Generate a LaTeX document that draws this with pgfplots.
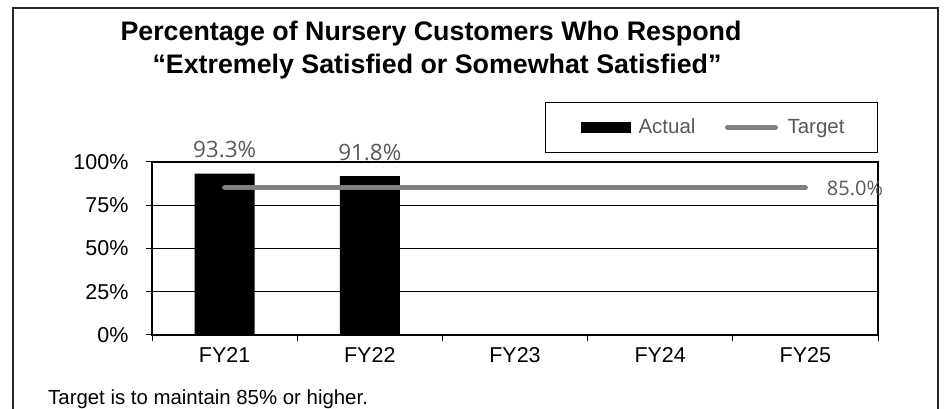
\documentclass[border=0pt]{standalone}
\usepackage{pgfplots}
\pgfplotsset{compat=1.18}
\usepackage{fontspec}
\setmainfont{Liberation Sans}
\newfontfamily\labelfont{Open Sans}
\definecolor{tgray}{RGB}{128,128,128}
\definecolor{lblgray}{RGB}{89,89,89}

\begin{document}
\begin{tikzpicture}[x=1pt,y=1pt]
\useasboundingbox (0,0) rectangle (944,409);
% outer frame (bottom edge falls outside the picture)
\draw[black!85, line width=1.3pt] (13,-5) -- (13,401) -- (938,401) -- (938,-5);

% title, two lines
\node[font=\fontsize{26.8}{30}\selectfont\bfseries, anchor=base, inner sep=0pt]
  at (431,368) {Percentage of Nursery Customers Who Respond};
\node[font=\fontsize{26.8}{30}\selectfont\bfseries, anchor=base, inner sep=0pt]
  at (437,335) {“Extremely Satisfied or Somewhat Satisfied”};

\begin{axis}[
    at={(152pt,74pt)}, anchor=south west,
    scale only axis,
    width=726pt, height=173pt,
    xmin=-0.5, xmax=4.5,
    ymin=0, ymax=100,
    xtick={-0.5,0.5,1.5,2.5,3.5,4.5},
    xticklabels={FY21,FY22,FY23,FY24,FY25},
    x tick label as interval,
    ytick={0,25,50,75,100},
    yticklabel={\pgfmathprintnumber{\tick}\%},
    /pgf/number format/assume math mode=true,
    ymajorgrids,
    grid style={black, line width=1pt},
    axis line style={black, line width=1.2pt},
    tick style={black, line width=1pt},
    tick align=outside,
    major tick length=6pt,
    xtick pos=bottom, ytick pos=left,
    ticklabel style={font=\fontsize{21.5}{24}\selectfont},
    xticklabel style={yshift=-3pt},
    yticklabel style={xshift=-14pt},
    clip=false,
    legend style={at={(1,1)}, anchor=south east, yshift=9pt,
        draw=black, line width=1pt, inner xsep=31pt, inner ysep=15pt,
        font=\fontsize{20.5}{24}\selectfont\color{lblgray}, legend columns=2,
        /tikz/every even column/.append style={column sep=25pt}},
    legend cell align=left,
]
\addplot[ybar, bar width=60pt, fill=black, draw=none,
    legend image code/.code={\path (-4pt,0pt) (56pt,0pt);
        \fill[black] (0pt,-5.5pt) rectangle (50pt,5.5pt);},
    nodes near coords={\pgfmathprintnumber[fixed,precision=1,fixed zerofill,assume math mode=true]{\pgfplotspointmeta}\%},
    every node near coord/.append style={font=\labelfont\fontsize{22.5}{25}\selectfont,
        text=lblgray, anchor=base, yshift=16pt}]
    coordinates {(0,93.3) (1,91.8)};
\addlegendentry{Actual}
\addplot[tgray, line width=5pt, line cap=round,
    legend image code/.code={\path (0pt,0pt) (58pt,0pt);
        \draw[tgray, line width=5pt, line cap=round] (2.5pt,0pt) -- (50.5pt,0pt);}]
    coordinates {(0,85) (4,85)}
    node[pos=1, anchor=west, xshift=19pt, inner sep=0pt,
         font=\labelfont\fontsize{20}{23}\selectfont, text=lblgray] {85.0\%};
\addlegendentry{Target}
\end{axis}

\node[anchor=base west, font=\fontsize{20.4}{23}\selectfont, inner sep=0pt]
  at (48,4) {Target is to maintain 85\% or higher.};
\end{tikzpicture}
\end{document}
